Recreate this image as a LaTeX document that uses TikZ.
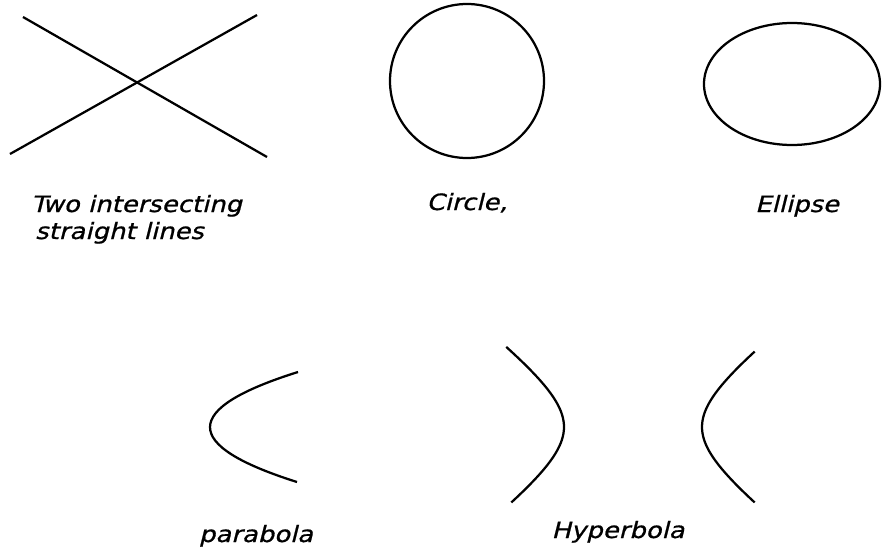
\documentclass[tikz,border=0pt]{standalone}
\usepackage{fontspec}
\newfontfamily\lettering[FakeStretch=1.15,FakeSlant=0.25,FakeBold=0.8]{DejaVu Sans}
\begin{document}
\begin{tikzpicture}[x=0.025cm,y=-0.025cm,line width=1.6pt,
  lbl/.style={font=\lettering\fontsize{16}{19}\selectfont,inner sep=0pt}]
  \useasboundingbox (0,0) rectangle (882,552);
  % Lines
  \draw (23,17) -- (267,157);
  \draw (10,154) -- (257,15);
  \node[lbl,anchor=base west] (lines1) at (30,212) {Two intersecting};
  \node[lbl,anchor=base west] (lines2) at (34,239) {straight lines};
  % Circle
  \draw (467,81) circle (77);
  \node[lbl,anchor=base] (circlelbl) at (467,210) {Circle,};
  % Ellipse
  \draw (792,84) ellipse (88 and 61);
  \node[lbl,anchor=base] (ellipselbl) at (797,212) {Ellipse};
  % Parabola
  \draw (298,372) .. controls (181,408.7) and (180.7,445.3) .. (297,482);
  \node[lbl,anchor=base] (parabolalbl) at (256,542) {parabola};
  % Hyperbola
  \draw plot[domain=-1.25:1.2,variable=\t,smooth,samples=40]
    ({564-65*(cosh(\t)-1)},{427+50*sinh(\t)});
  \draw plot[domain=-1.2:1.2,variable=\t,smooth,samples=40]
    ({702+65*(cosh(\t)-1)},{427+50*sinh(\t)});
  \node[lbl,anchor=base] (hyperbolalbl) at (618,538) {Hyperbola};
\end{tikzpicture}
\end{document}
